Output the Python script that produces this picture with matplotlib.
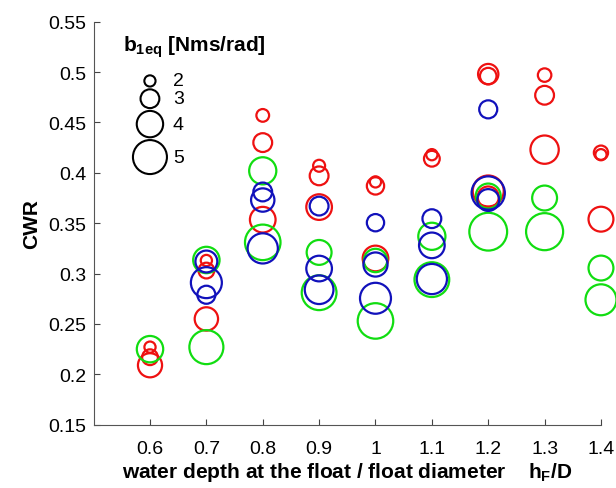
import numpy as np
import matplotlib
matplotlib.use("Agg")
import matplotlib.pyplot as plt
from matplotlib.transforms import offset_copy

plt.rcParams['font.family'] = ['Liberation Sans', 'DejaVu Sans']
plt.rcParams['mathtext.fontset'] = 'custom'
plt.rcParams['mathtext.rm'] = 'Liberation Sans'
plt.rcParams['mathtext.bf'] = 'Liberation Sans:bold'
plt.rcParams['mathtext.it'] = 'Liberation Sans:italic'

# hF/D, CWR, b1eq
red_x = [0.6, 0.6, 0.6, 0.7, 0.7, 0.7, 0.8, 0.8, 0.8, 0.9, 0.9, 0.9,
         1.0, 1.0, 1.0, 1.1, 1.1, 1.2, 1.2, 1.2, 1.2, 1.3, 1.3, 1.3,
         1.4, 1.4, 1.4]
red_cwr = [0.227, 0.217, 0.209, 0.313, 0.303, 0.255, 0.457, 0.430, 0.3535,
           0.407, 0.397, 0.366, 0.391, 0.387, 0.315, 0.418, 0.414,
           0.498, 0.496, 0.382, 0.376, 0.497, 0.477, 0.423,
           0.420, 0.418, 0.354]
red_b = [2.0, 2.6, 3.7, 2.0, 2.6, 3.6, 2.2, 3.0, 3.9, 2.1, 3.0, 3.9,
         2.0, 2.8, 3.9, 2.0, 2.6, 3.2, 2.7, 4.6, 3.3, 2.3, 3.0, 4.25,
         2.4, 2.0, 3.8]

green_x = [0.6, 0.7, 0.7, 0.8, 0.8, 0.9, 0.9, 1.0, 1.0, 1.1, 1.1,
           1.2, 1.2, 1.3, 1.3, 1.4, 1.4]
green_cwr = [0.225, 0.3135, 0.227, 0.402, 0.331, 0.321, 0.281, 0.313, 0.253,
             0.337, 0.294, 0.377, 0.3416, 0.375, 0.3416, 0.3055, 0.274]
green_b = [4.0, 4.0, 5.0, 4.1, 5.2, 3.8, 5.1, 3.6, 5.2, 4.1, 5.1,
           3.8, 5.5, 3.8, 5.4, 3.8, 4.6]

blue_x = [0.7, 0.7, 0.7, 0.8, 0.8, 0.8, 0.9, 0.9, 0.9, 1.0, 1.0, 1.0,
          1.1, 1.1, 1.1, 1.2, 1.2, 1.2]
blue_cwr = [0.312, 0.291, 0.279, 0.381, 0.373, 0.325, 0.367, 0.305, 0.284,
            0.3505, 0.309, 0.2755, 0.3545, 0.328, 0.2946, 0.463, 0.380, 0.373]
blue_b = [3.4, 4.6, 2.9, 3.0, 3.6, 4.5, 3.0, 3.9, 4.3, 2.8, 3.7, 4.6,
          3.0, 3.9, 4.5, 2.9, 4.9, 3.4]

legend_b = [2, 3, 4, 5]
xticks = [0.6, 0.7, 0.8, 0.9, 1.0, 1.1, 1.2, 1.3, 1.4]
yticks = [0.15, 0.2, 0.25, 0.3, 0.35, 0.4, 0.45, 0.5, 0.55]


def diam_pt(b):
    # circle diameter (points) for a b1eq value
    return (7.6 * np.asarray(b, float) - 4.0) * 0.72


fig = plt.figure(figsize=(6.16, 4.89), dpi=100)
ax = fig.add_axes([0.152, 0.1294, 0.8236, 0.8242])

for xs, ys, bs, col in [(red_x, red_cwr, red_b, '#ee1111'),
                        (green_x, green_cwr, green_b, '#11dd11'),
                        (blue_x, blue_cwr, blue_b, '#1111bb')]:
    ax.scatter(xs, ys, s=diam_pt(bs) ** 2, facecolors='none', edgecolors=col,
               linewidths=1.6, clip_on=False, zorder=3)

ax.set_xlim(0.5, 1.4)
ax.set_ylim(0.15, 0.55)
ax.set_xticks(xticks)
ax.set_xticklabels(['%g' % t for t in xticks])
ax.set_yticks(yticks)
ax.set_yticklabels(['%g' % t for t in yticks])
ax.tick_params(direction='in', length=4, labelsize=14, color='#444444')
ax.tick_params(axis='x', pad=11)
ax.tick_params(axis='y', pad=5)
for s in ['top', 'right']:
    ax.spines[s].set_visible(False)
for s in ['left', 'bottom']:
    ax.spines[s].set_color('#555555')

ax.set_ylabel('CWR', fontsize=15, fontweight='bold', labelpad=5)
ax.set_xlabel(r'water depth at the float / float diameter    $\mathbf{h_F}$/D',
              fontsize=15, fontweight='bold', labelpad=2)

# size legend (black circles stacked)
ax.text(0.058, 0.94, r'$\mathbf{b_{1eq}}$ [Nms/rad]', transform=ax.transAxes,
        fontsize=15, fontweight='bold', va='center', ha='left')
dy = 0.0
prev = None
for b in legend_b:
    r = diam_pt(b) / 2
    if prev is not None:
        dy -= prev + r + 2.0
    prev = r
    tr = offset_copy(ax.transAxes, fig=fig, x=0, y=dy, units='points')
    ax.scatter([0.111], [0.853], s=diam_pt(b) ** 2, facecolors='none',
               edgecolors='black', linewidths=1.5, transform=tr, clip_on=False)
    ax.text(0.156, 0.853, str(b), transform=tr, fontsize=14,
            va='center', ha='left')

fig.savefig('out.png', dpi=100)
